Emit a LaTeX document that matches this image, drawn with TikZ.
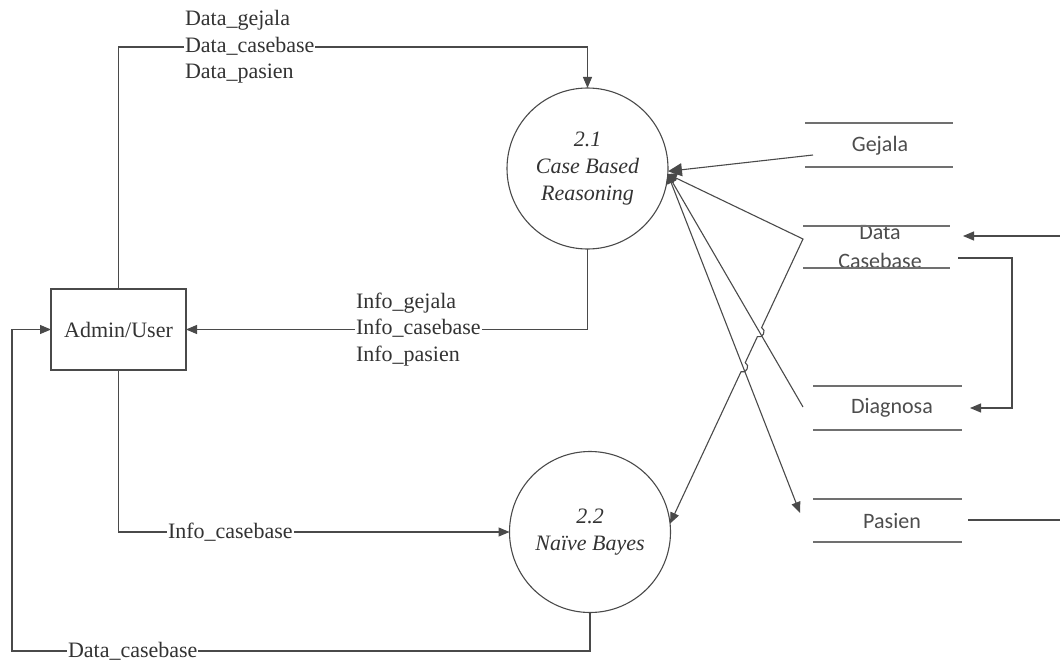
\documentclass[tikz,border=0pt]{standalone}
\usepackage{fontspec}
\setmainfont{Liberation Serif}
\newfontfamily\storefont{Carlito}
\usetikzlibrary{arrows.meta,calc,intersections}
\definecolor{wire}{HTML}{4A4A4A}
\definecolor{ink}{HTML}{333333}
\definecolor{storeink}{HTML}{4D4D4D}
\definecolor{storeline}{HTML}{707070}
\tikzset{
  flowtip/.tip={Triangle[length=11pt,width=9pt]},
  hubtip/.tip={Triangle[length=9pt,width=11pt]},
  gejtip/.tip={Triangle[length=14pt,width=13pt]}
}

\begin{document}
\begin{tikzpicture}[x=1pt,y=-1pt,
  every node/.style={inner sep=0pt, outer sep=0pt},
  wireline/.style={draw=wire, line width=1.1pt},
  flow/.style={wireline, -flowtip},
  entity/.style={draw=wire, line width=1.1pt, minimum width=135pt, minimum height=81pt,
    font=\fontsize{22}{26.5}\selectfont, text=ink},
  process/.style={circle, draw=wire, line width=1.1pt, minimum size=161pt, align=center,
    font=\fontsize{22}{27}\selectfont\itshape, text=ink},
  flowlabel/.style={fill=white, align=left, inner xsep=1pt, inner ysep=0pt,
    font=\fontsize{22}{26.5}\selectfont, text=ink},
  storetext/.style={font=\storefont\fontsize{22}{29}\selectfont, text=storeink, align=center},
  storeedge/.style={draw=storeline, line width=1.6pt}
]
\useasboundingbox (0,0) rectangle (1060,661);

% external entity and processes
\node[entity] (admin) at (118.5,329.5) {Admin/User};
\node[process] (c21) at (587.5,168.5) {2.1\\Case Based\\Reasoning};
\node[process] (c22) at (590,532) {2.2\\Naïve Bayes};

% data stores (open rectangles)
\node[storetext] (gej)  at (880,146)   {Gejala};
\node[storetext] (dcb)  at (880,247.5) {Data\\Casebase};
\node[storetext] (diag) at (892,408)   {Diagnosa};
\node[storetext] (pas)  at (892,521)   {Pasien};
\draw[storeedge] ([shift={(-75,-23)}]gej.center) -- ++(148,0)
                 ([shift={(-75,21)}]gej.center) -- ++(148,0);
\draw[storeedge] ([shift={(-77,-21.5)}]dcb.center) -- ++(147,0)
                 ([shift={(-77,20.5)}]dcb.center) -- ++(147,0);
\draw[storeedge] ([shift={(-79,-22)}]diag.center) -- ++(149,0)
                 ([shift={(-79,22)}]diag.center) -- ++(149,0);
\draw[storeedge] ([shift={(-79,-22)}]pas.center) -- ++(149,0)
                 ([shift={(-79,21)}]pas.center) -- ++(149,0);

% helper points
\coordinate (topwire) at (0,47);
\coordinate (lowleft) at (12,651);
\coordinate (busx) at (1012,0);
\coordinate (hub) at (c21.-4);
\coordinate (gejout) at ([shift={(-67,9)}]gej.center);
\coordinate (cbk) at ([shift={(-77,-8.5)}]dcb.center);
\coordinate (dgin) at ([shift={(-89,-1)}]diag.center);
\coordinate (pasin) at ([shift={(-92,-8)}]pas.center);
\coordinate (nbin) at (c22.6);
\coordinate (rightin) at ([shift={(180,-11.5)}]dcb.center);

% flows between entity and processes
\draw[flow] (admin.north) -- (admin.north |- topwire) -| (c21.north);
\draw[flow] (c21.south) |- (admin.east);
\draw[flow] (admin.south) |- (c22.west);
\draw[flow] (c22.south) |- (lowleft) |- (admin.west);

% flows between processes and stores
\draw[wireline, -gejtip] (gejout) -- (c21.-2);
\path[name path=pathD] (hub) -- (dgin);
\path[name path=pathP] (hub) -- (pasin);
\path[name path=pathA] (cbk) -- (nbin);
\path[name intersections={of=pathA and pathD, by=xD}];
\path[name intersections={of=pathA and pathP, by=xP}];
\draw[wireline, hubtip-] (hub) -- (dgin);
\draw[wireline, hubtip-flowtip] (hub) -- (pasin);
\draw[wireline, hubtip-flowtip] (hub) -- (cbk) -- ($(xD)!5pt!(cbk)$)
  to[bend left=90, looseness=1.5] ($(xD)!5pt!(nbin)$) -- ($(xP)!5pt!(cbk)$)
  to[bend left=90, looseness=1.5] ($(xP)!5pt!(nbin)$) -- (nbin);

% flows on the right-hand side
\draw[flow] (rightin) -- ([shift={(83,-11.5)}]dcb.center);
\draw[flow] ([shift={(78,10.5)}]dcb.center) -| (busx |- diag.center) -- ([xshift=78pt]diag.center);
\draw[wireline] ([shift={(76,-1)}]pas.center) -- ([shift={(168,-1)}]pas.center);

% flow labels
\node[flowlabel, anchor=west] (lbltop) at (184,47) {Data\_gejala\\Data\_casebase\\Data\_pasien};
\node[flowlabel, anchor=west] (lblinfo) at (355,329.5) {Info\_gejala\\Info\_casebase\\Info\_pasien};
\node[flowlabel, anchor=west] (lblnb) at (167,532) {Info\_casebase};
\node[flowlabel, anchor=west] (lblback) at (67,651) {Data\_casebase};
\end{tikzpicture}
\end{document}
